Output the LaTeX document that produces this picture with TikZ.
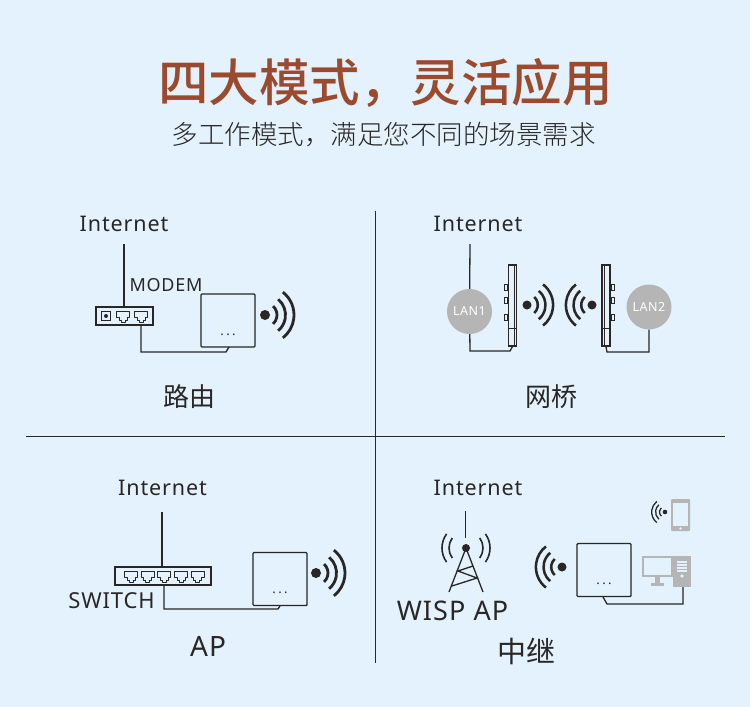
\documentclass[tikz,border=0pt]{standalone}
\usepackage{fontspec}
\setmainfont{Noto Sans}[LetterSpace=4]
\newfontfamily\cjk{Noto Sans CJK SC}
\newfontfamily\cjkmed{Noto Sans CJK SC Medium}
\newfontfamily\cjklight{Noto Sans CJK SC Light}
\usetikzlibrary{positioning}
\definecolor{bgblue}{HTML}{E3F2FC}
\definecolor{titlebrown}{HTML}{9C4A2E}
\definecolor{inkgrey}{HTML}{2A2626}
\definecolor{softgrey}{HTML}{B5B5B5}
\newcommand{\fsz}[1]{\fontsize{#1}{#1}\selectfont}
\newcommand{\threedots}{.\hspace{2.5pt}.\hspace{2.5pt}.}
\tikzset{
  wire/.style={draw=inkgrey, line width=1.3pt},
  caption/.style={inner sep=0, text=inkgrey},
  inet/.style={caption, font=\fsz{21.5}},
  device/.style={draw=inkgrey, line width=1.4pt, rounded corners=1pt, minimum width=54pt, minimum height=53pt, inner sep=0},
  dotrow/.style={inner sep=0, text=inkgrey, font=\fsz{13}},
  hub/.style={draw=inkgrey, line width=1.3pt, minimum height=18pt, inner sep=0},
  lan/.style={circle, fill=softgrey, text=white, minimum size=45pt, inner sep=0, font=\fsz{12.5}},
  panel/.style={draw=inkgrey, line width=1.2pt, minimum width=8pt, minimum height=81pt, inner sep=0},
  bump/.style={draw=inkgrey, line width=1pt, minimum width=3pt, minimum height=6pt, inner sep=0},
  pics/wifi/.style={code={
    \fill[inkgrey] (0,0) circle (#1*5pt);
    \foreach \r/\a in {12/48,20.5/50,29/52}
      \draw[inkgrey, line width=#1*2.8pt] (\a:#1*\r pt) arc (\a:-\a:#1*\r pt);
  }},
  pics/rj/.style={code={
    \draw[inkgrey, line width=.9pt, line join=round] (-6.5pt,5pt) -- (6.5pt,5pt) -- (6.5pt,-1pt) -- (4pt,-1pt) -- (4pt,-4pt) -- (2pt,-4pt) -- (2pt,-6pt) -- (-2pt,-6pt) -- (-2pt,-4pt) -- (-4pt,-4pt) -- (-4pt,-1pt) -- (-6.5pt,-1pt) -- cycle;
  }}
}
\begin{document}
\begin{tikzpicture}[x=1pt, y=-1pt]
 \fill[bgblue] (0,0) rectangle (750,707);
 \useasboundingbox (0,0) rectangle (750,707);
 \node (title) [text=titlebrown, font=\cjkmed\fsz{50.5}, inner sep=0] at (385.5,83) {四大模式，灵活应用};
 \node (subtitle) [caption, font=\cjklight\fsz{26.5}] at (383.5,135) {多工作模式，满足您不同的场景需求};
 % dividers
 \coordinate (vtop) at (375.5,211);
 \coordinate (vbot) at (375.5,663);
 \coordinate (hleft) at (26,436);
 \coordinate (hright) at (725,436);
 \draw[inkgrey, line width=.9pt] (vtop) -- (vbot);
 \draw[inkgrey, line width=.9pt] (hleft) -- (hright);

 % router
 \node (inet1) [inet] at (124,224) {Internet};
 \node (modemlab) [caption, font=\fsz{18}] at (166,285) {MODEM};
 \node (modem) [hub, minimum width=57pt] at (124.5,316) {};
 \node (power) [draw=inkgrey, line width=1pt, minimum size=9pt, inner sep=0] at (106,316) {};
 \fill[inkgrey] (power) circle (2pt);
 \coordinate (m1) at (123,316);
 \coordinate (m2) at (141,316);
 \foreach \p in {m1,m2} \pic at (\p) {rj};
 \node (dev1) [device] at (228,320.5) {};
 \node (dots1) [dotrow] at ([yshift=13pt]dev1.south) {\threedots};
 \pic at (265,315) {wifi=1};
 \coordinate (c1) at (124,244);
 \coordinate (c2) at (141,352);
 \coordinate (c3) at (226,352);
 \coordinate (c4) at (229,347);
 \draw[wire] (c1) -- (c1 |- modem.north);
 \draw[wire] (c2 |- modem.south) -- (c2) -- (c3) -- (c4);
 \node (lab1) [caption, font=\cjk\fsz{26}] at (189,397) {路由};

 % bridge
 \node (inet2) [inet] at (478,224) {Internet};
 \node (lan1) [lan] at (469.5,311.5) {LAN1};
 \node (lan2) [lan] at (649,307) {LAN2};
 \node (cpe1) [panel] at (512.5,305.5) {};
 \node (cpe2) [panel] at (606,305.5) {};
 \draw[inkgrey, line width=.8pt] (cpe1.south)++(2pt,0) -- ++(0,81pt);
 \draw[inkgrey, line width=.8pt] (cpe2.south)++(-2pt,0) -- ++(0,81pt);
 \draw[inkgrey, line width=.8pt] (cpe1.south)++(-4pt,18pt) -- ++(8pt,0);
 \draw[inkgrey, line width=.8pt] (cpe2.south)++(-4pt,18pt) -- ++(8pt,0);
 \foreach \y in {287,300,317} {
   \node [bump, left=0pt of cpe1.west |- {0,\y}] {};
   \node [bump, right=0pt of cpe2.east |- {0,\y}] {};
 }
 \pic at (527,305) {wifi=.9};
 \pic[rotate=180] at (592,305) {wifi=.9};
 \coordinate (c5) at (470,244);
 \coordinate (c6) at (470,351);
 \coordinate (c7) at (510,351);
 \coordinate (c8) at (649,352);
 \coordinate (c9) at (607,352);
 \draw[wire] (c5) -- (lan1);
 \draw[wire] (lan1) -- (c6) -- (c7) -- (cpe1.south);
 \draw[wire] (lan2) -- (c8) -- (c9) -- (cpe2.south);
 \node (lab2) [caption, font=\cjk\fsz{26}] at (551,397) {网桥};

 % AP
 \node (inet3) [inet] at (162.5,488) {Internet};
 \node (switch) [hub, minimum width=96pt] at (163,576) {};
 \foreach \x in {131,147.5,164,181,197.5} \pic at (\x,576) {rj};
 \node (switchlab) [caption, font=\fsz{22}] at (111.5,601) {SWITCH};
 \node (dev3) [device] at (280,579) {};
 \node (dots3) [dotrow] at ([yshift=13pt]dev3.south) {\threedots};
 \pic at (316,573) {wifi=1};
 \coordinate (c10) at (162,512);
 \coordinate (c11) at (164,609);
 \coordinate (c12) at (278,609);
 \coordinate (c13) at (280,606);
 \draw[wire] (c10) -- (c10 |- switch.north);
 \draw[wire] (c11 |- switch.south) -- (c11) -- (c12) -- (c13);
 \node (lab3) [caption, font=\fsz{28}] at (208,646) {AP};

 % repeater
 \node (inet4) [inet] at (478,488) {Internet};
 \coordinate (top) at (466,548);
 \coordinate (leg1) at (449,592);
 \coordinate (leg2) at (483,592);
 \coordinate (b1) at (458,571);
 \coordinate (b2) at (473,566);
 \coordinate (b3) at (477,578);
 \coordinate (b4) at (452,586);
 \coordinate (c14) at (465.5,511);
 \fill[inkgrey] (top) circle (4pt);
 \draw[wire] (c14) -- (c14 |- 0,538);
 \draw[wire] (leg1) -- (top) -- (leg2);
 \draw[wire] (b2) -- (b1) -- (b3) -- (b4);
 \foreach \r in {17,24} {
   \draw[inkgrey, line width=1.6pt] (top)++(36:\r pt) arc (36:-36:\r pt);
   \draw[inkgrey, line width=1.6pt] (top)++(144:\r pt) arc (144:216:\r pt);
 }
 \node (wisplab) [caption, font=\fsz{27}] at (452.5,611) {WISP AP};
 \node (dev4) [device] at (604,570) {};
 \node (dots4) [dotrow] at ([yshift=13pt]dev4.south) {\threedots};
 \pic[rotate=180] at (562,567) {wifi=.9};
 \node (phone) [fill=softgrey, minimum width=19pt, minimum height=32pt, inner sep=0, rounded corners=1pt] at (680.5,515) {};
 \fill[bgblue] (673,503) rectangle (688,526);
 \fill[bgblue] (680.5,528.5) circle (1.3pt);
 \pic[rotate=180] at (665,512) {wifi=.46};
 \node (screen) [draw=softgrey, line width=2.4pt, minimum width=29pt, minimum height=19pt, inner sep=0] at (657.5,566.5) {};
 \fill[softgrey] (655,577) rectangle (660,583);
 \fill[softgrey] (651,583) rectangle (664,586);
 \node (case) [fill=softgrey, minimum width=18pt, minimum height=31pt, inner sep=0] at (682,571.5) {};
 \foreach \y in {561,564,567,570} \fill[bgblue] (677,\y) rectangle (687,\y+1.5);
 \fill[bgblue] (682,576) circle (1.8pt);
 \coordinate (c15) at (603,597);
 \coordinate (c16) at (607,604);
 \coordinate (c17) at (683,604);
 \draw[wire] (c15) -- (c16) -- (c17) -- (c17 |- case.south);
 \node (lab4) [caption, font=\cjk\fsz{29}] at (526,651) {中继};
\end{tikzpicture}
\end{document}
